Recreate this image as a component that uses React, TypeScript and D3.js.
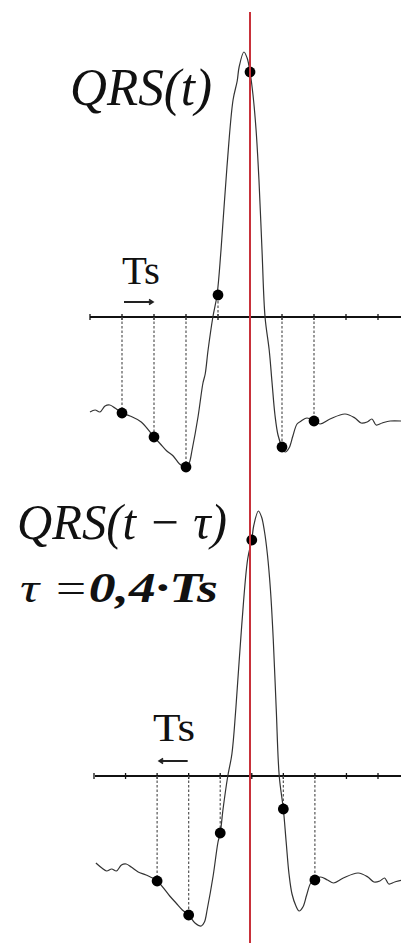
import React from "react";
import * as d3 from "d3";

const WIDTH = 401;
const HEIGHT = 943;
const SERIF = '"Liberation Serif", "Times New Roman", serif';

// QRS complex: time in sampling periods (Ts) relative to the marker, amplitude in mV
const waveT = [
  -5.34, -5.15, -5.0, -4.84, -4.69, -4.53, -4.38, -4.22, -4.0, -3.75, -3.4, -3.0,
  -2.8, -2.6, -2.4, -2.2, -2.0, -1.9, -1.81, -1.625, -1.47, -1.4, -1.31, -1.16,
  -1.03, -0.906, -0.72, -0.53, -0.4, -0.34, -0.19, -0.09, 0.0, 0.094, 0.19, 0.28,
  0.375, 0.47, 0.6, 0.69, 0.78, 0.875, 1.0, 1.1, 1.22, 1.34, 1.47, 1.6, 1.78, 2.0,
  2.19, 2.5, 2.97, 3.28, 3.47, 3.66, 3.81, 3.94, 4.13, 4.38, 4.72,
];
const waveA = [
  -0.87, -0.92, -0.95, -0.93, -0.95, -0.89, -0.88, -0.91, -0.96, -0.99, -1.05, -1.2,
  -1.27, -1.34, -1.39, -1.47, -1.5, -1.46, -1.33, -1.0, -0.66, -0.57, -0.33, 0.0,
  0.22, 0.67, 1.5, 2.17, 2.36, 2.5, 2.65, 2.59, 2.45, 2.22, 1.87, 1.37,
  0.67, 0.0, -0.33, -0.66, -0.98, -1.18, -1.3, -1.35, -1.31, -1.19, -1.07, -1.04, -1.01, -1.04,
  -1.07, -1.02, -0.97, -1.01, -1.06, -1.05, -1.02, -1.08, -1.06, -1.04, -1.04,
];

// Samples taken at whole sampling periods
const samplesTopT = [-4, -3, -2, -1, 0, 1, 2];
const samplesTopA = [-0.96, -1.2, -1.5, 0.22, 2.45, -1.3, -1.04];
const samplesShiftedT = [-3, -2, -1, 0, 1, 2];
const samplesShiftedA = [-1.05, -1.39, -0.57, 2.36, -0.33, -1.04];

const tickT = [-5, -4, -3, -2, -1, 0, 1, 2, 3, 4];
const TAU = 0.4;

type Panel = {
  axisY: number;
  x: d3.ScaleLinear<number, number>;
  shift: number;
  startX: number;
  sampleT: number[];
  sampleA: number[];
  arrowFrom: number;
  arrowTo: number;
  arrowDir: 1 | -1;
  tsX: number;
  tsW: number;
  tsBaseline: number;
};

const panels: Panel[] = [
  {
    axisY: 317,
    x: d3.scaleLinear().domain([-5, 4]).range([90, 378]),
    shift: 0,
    startX: 90,
    sampleT: samplesTopT,
    sampleA: samplesTopA,
    arrowFrom: -4,
    arrowTo: -3,
    arrowDir: 1,
    tsX: 122,
    tsW: 38,
    tsBaseline: 284,
  },
  {
    axisY: 776,
    x: d3.scaleLinear().domain([-5, 4]).range([94, 378]),
    shift: TAU,
    startX: 95,
    sampleT: samplesShiftedT,
    sampleA: samplesShiftedA,
    arrowFrom: -3,
    arrowTo: -2,
    arrowDir: -1,
    tsX: 153,
    tsW: 42,
    tsBaseline: 741,
  },
];

const ampScale = d3.scaleLinear().domain([0, 1]).range([0, -100]);

function PanelView({ p }: { p: Panel }) {
  const y = (a: number) => p.axisY + ampScale(a);
  const pts = waveT
    .map((t, i) => [p.x(t + p.shift), y(waveA[i])] as [number, number])
    .filter(([px]) => px >= p.startX - 0.5);
  const line = d3.line().curve(d3.curveCatmullRom.alpha(0.5));
  const ax0 = p.x(p.arrowFrom) + 2;
  const ax1 = p.x(p.arrowTo) - 1;
  const ay = p.axisY - 15;
  const head = p.arrowDir === 1 ? ax1 : ax0;
  const hd = p.arrowDir === 1 ? -4 : 4;
  return (
    <g>
      <line x1={p.startX} x2={WIDTH} y1={p.axisY} y2={p.axisY} stroke="#111" strokeWidth={2.2} />
      {tickT.map((t) => (
        <line key={t} x1={p.x(t)} x2={p.x(t)} y1={p.axisY - 3} y2={p.axisY + 3} stroke="#111" strokeWidth={1.3} />
      ))}
      {p.sampleT.map((t, i) =>
        t === 0 ? null : (
          <line
            key={t}
            x1={p.x(t)}
            x2={p.x(t)}
            y1={p.axisY}
            y2={y(p.sampleA[i])}
            stroke="#555"
            strokeWidth={1.2}
            strokeDasharray="2.5,2"
          />
        )
      )}
      <path d={line(pts) ?? ""} fill="none" stroke="#333" strokeWidth={1.2} />
      {p.sampleT.map((t, i) => (
        <circle key={t} cx={p.x(t)} cy={y(p.sampleA[i])} r={5.4} fill="#000" />
      ))}
      <line x1={ax0} x2={ax1} y1={ay} y2={ay} stroke="#222" strokeWidth={2} />
      <path d={`M${head + hd},${ay - 2.5} L${head},${ay} L${head + hd},${ay + 2.5}`} fill="none" stroke="#222" strokeWidth={1.6} />
      <text
        x={p.tsX}
        y={p.tsBaseline}
        style={{ fontFamily: SERIF }}
        fontSize={41}
        textLength={p.tsW}
        lengthAdjust="spacingAndGlyphs"
        fill="#111"
      >
        Ts
      </text>
    </g>
  );
}

export default function App() {
  const italic = { fontFamily: SERIF, fontStyle: "italic" as const };
  return (
    <svg
      width={WIDTH}
      height={HEIGHT}
      style={{ position: "absolute", left: 0, top: 0, background: "#fff" }}
    >
      <rect width={WIDTH} height={HEIGHT} fill="#fff" />
      {panels.map((p, i) => (
        <PanelView key={i} p={p} />
      ))}
      <line x1={250} x2={250} y1={12} y2={HEIGHT} stroke="#c8313a" strokeWidth={2} />
      <text x={70} y={105} style={italic} fontSize={52} textLength={142} lengthAdjust="spacingAndGlyphs" fill="#111">
        QRS(t)
      </text>
      <text x={17} y={539} style={italic} fontSize={50} textLength={210} lengthAdjust="spacingAndGlyphs" fill="#111">
        QRS(t − τ)
      </text>
      <text x={20} y={602} style={italic} fontSize={42} textLength={198} lengthAdjust="spacingAndGlyphs" fill="#111">
        <tspan>τ =</tspan>
        <tspan fontWeight="bold">0,4·Ts</tspan>
      </text>
    </svg>
  );
}
